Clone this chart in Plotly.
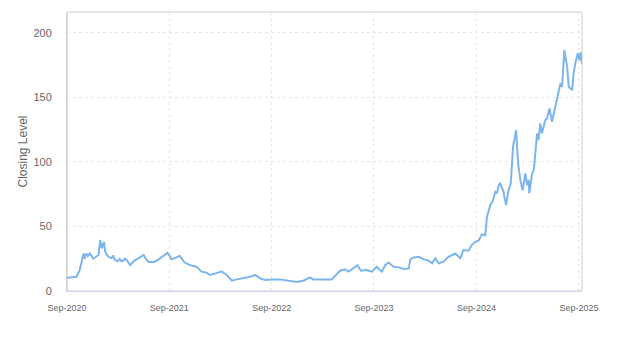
import plotly.graph_objects as go

dates = [
    "2020-09-01", "2020-09-18", "2020-10-05", "2020-10-16", "2020-10-23", "2020-10-30",
    "2020-11-03", "2020-11-08", "2020-11-14", "2020-11-21", "2020-12-04", "2020-12-16",
    "2020-12-23", "2020-12-28", "2021-01-03", "2021-01-11", "2021-01-15", "2021-01-21",
    "2021-01-30", "2021-02-07", "2021-02-13", "2021-02-19", "2021-03-01", "2021-03-08",
    "2021-03-15", "2021-03-21", "2021-03-26", "2021-04-02", "2021-04-14", "2021-04-23",
    "2021-05-02", "2021-05-15", "2021-06-01", "2021-06-09", "2021-06-18", "2021-06-30",
    "2021-07-12", "2021-07-25", "2021-08-05", "2021-08-16", "2021-08-25", "2021-09-03",
    "2021-09-09", "2021-09-27", "2021-10-08", "2021-10-15", "2021-10-26", "2021-11-13",
    "2021-12-07", "2021-12-25", "2022-01-12", "2022-01-24", "2022-02-11", "2022-03-07",
    "2022-03-25", "2022-04-12", "2022-04-30", "2022-05-23", "2022-06-16", "2022-07-04",
    "2022-07-22", "2022-08-09", "2022-09-01", "2022-09-30", "2022-10-30", "2022-11-29",
    "2022-12-23", "2023-01-16", "2023-01-27", "2023-02-09", "2023-03-04", "2023-04-03",
    "2023-04-15", "2023-05-03", "2023-05-21", "2023-06-01", "2023-06-19", "2023-07-04",
    "2023-07-16", "2023-08-06", "2023-08-24", "2023-09-11", "2023-09-20", "2023-09-29",
    "2023-10-11", "2023-10-23", "2023-11-10", "2023-11-28", "2023-12-16", "2024-01-03",
    "2024-01-09", "2024-01-21", "2024-02-08", "2024-02-26", "2024-03-14", "2024-03-26",
    "2024-04-07", "2024-04-18", "2024-05-06", "2024-05-24", "2024-06-17", "2024-07-05",
    "2024-07-16", "2024-08-03", "2024-08-15", "2024-08-27", "2024-09-08", "2024-09-20",
    "2024-10-02", "2024-10-08", "2024-10-20", "2024-10-29", "2024-11-07", "2024-11-13",
    "2024-11-19", "2024-11-24", "2024-12-06", "2024-12-15", "2024-12-24", "2025-01-01",
    "2025-01-09", "2025-01-20", "2025-01-27", "2025-02-04", "2025-02-12", "2025-02-22",
    "2025-02-28", "2025-03-06", "2025-03-08", "2025-03-18", "2025-03-24", "2025-03-30",
    "2025-04-05", "2025-04-10", "2025-04-16", "2025-04-22", "2025-05-04", "2025-05-10",
    "2025-05-19", "2025-05-28", "2025-06-09", "2025-06-19", "2025-06-27", "2025-07-03",
    "2025-07-11", "2025-07-21", "2025-07-27", "2025-08-08", "2025-08-13", "2025-08-19",
    "2025-08-28", "2025-09-03", "2025-09-07", "2025-09-12",
]

closing = [
    10.3, 10.5, 11.0, 16.0, 22.0, 29.0,
    25.0, 29.0, 27.0, 29.0, 25.0, 26.5,
    28.0, 39.5, 33.0, 38.0, 31.0, 28.0,
    26.0, 25.5, 27.5, 24.0, 23.0, 24.7,
    23.0, 23.5, 25.0, 24.0, 20.0, 22.0,
    24.0, 25.5, 28.0, 25.0, 22.7, 22.5,
    22.7, 24.5, 26.5, 28.0, 29.5, 27.0,
    24.5, 26.0, 27.3, 25.0, 22.0, 20.0,
    18.8, 15.0, 14.2, 12.4, 13.7, 15.0,
    12.4, 8.0, 9.0, 9.8, 11.0, 12.4,
    9.8, 8.5, 9.0, 9.0, 8.0, 7.0,
    8.0, 10.6, 9.0, 9.0, 9.3, 9.0,
    11.6, 15.7, 16.8, 15.0, 17.5, 20.0,
    15.7, 16.2, 15.0, 18.8, 16.8, 15.0,
    20.0, 22.0, 18.8, 18.3, 17.0, 17.5,
    24.5, 26.0, 26.5, 24.5, 23.5, 21.4,
    25.3, 21.4, 22.7, 26.5, 29.0, 25.3,
    31.7, 31.2, 35.6, 38.1, 39.0, 44.0,
    43.0, 57.5, 66.5, 70.0, 76.8, 75.6,
    82.0, 83.3, 76.8, 66.5, 78.0, 83.3,
    111.6, 124.6, 98.8, 86.0, 78.0, 91.0,
    82.0, 86.0, 75.6, 91.0, 93.6, 111.6,
    122.0, 116.8, 129.7, 122.0, 132.3, 133.6,
    141.3, 131.0, 142.6, 153.0, 160.7, 158.0,
    186.5, 173.5, 158.0, 155.5, 168.4, 176.0,
    184.0, 178.7, 185.0, 176.0,
]

y_ticks = [0, 50, 100, 150, 200]

fig = go.Figure()
fig.add_trace(go.Scatter(
    x=dates, y=closing, mode="lines",
    line=dict(color="#7cb5ec", width=2),
    hoverinfo="x+y", showlegend=False,
))

fig.add_shape(type="rect", xref="paper", yref="paper", x0=0, y0=0, x1=1, y1=1,
              line=dict(color="#cccccc", width=1), layer="below")

fig.update_layout(
    width=623, height=350,
    margin=dict(l=67, r=41, t=12, b=59, autoexpand=False),
    paper_bgcolor="white", plot_bgcolor="white",
    font=dict(family="Liberation Sans, Arial, sans-serif", color="#666666"),
    xaxis=dict(
        type="date",
        range=["2020-09-01", "2025-09-12"],
        tick0="2020-09-01", dtick="M12", tickformat="%b-%Y",
        tickfont=dict(size=9, color="#666666"),
        showgrid=True, gridcolor="#e6e6e6", griddash="3px,3px", gridwidth=1,
        showline=True, linecolor="#ccd6eb", linewidth=1,
        ticks="", ticklabelstandoff=8,
        zeroline=False, automargin=False,
    ),
    yaxis=dict(
        range=[0, 216],
        tickvals=y_ticks,
        tickfont=dict(size=11, color="#666666"),
        showgrid=True, gridcolor="#e6e6e6", griddash="3px,3px", gridwidth=1,
        showline=True, linecolor="#cccccc", linewidth=1,
        ticks="", ticklabelstandoff=12,
        zeroline=False, automargin=False,
        title=dict(text="Closing Level", font=dict(size=12, color="#666666"), standoff=3),
    ),
)

fig.write_html("out.html")
